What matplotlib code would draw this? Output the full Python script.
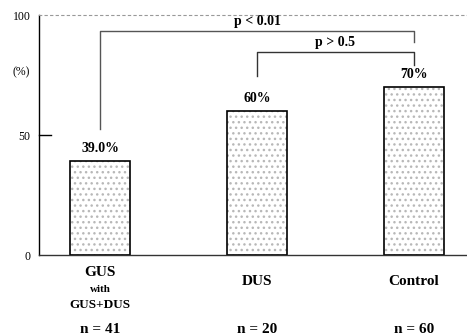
import matplotlib.pyplot as plt

groups = ['GUS', 'DUS', 'Control']
rates = [39.0, 60, 70]
value_labels = ['39.0%', '60%', '70%']
n_labels = ['n = 41', 'n = 20', 'n = 60']
sig_labels = ['p < 0.01', 'p > 0.5']

plt.rcParams['font.family'] = ['Liberation Serif', 'DejaVu Serif']

fig = plt.figure(figsize=(4.67, 3.36), dpi=100)
ax = fig.add_axes([0.0835, 0.241, 0.9165, 0.714])

x = list(range(len(groups)))
w = 0.382
ax.bar(x, rates, width=w, color='white', edgecolor='#b8b8b8', hatch='...', linewidth=0)
ax.bar(x, rates, width=w, fill=False, edgecolor='black', linewidth=1.2)

ax.set_xlim(-0.389, 2.338)
ax.set_ylim(0, 100)

for xi, r, lab in zip(x, rates, value_labels):
    ax.text(xi, r + 2.5, lab, ha='center', va='bottom', fontsize=10, fontweight='bold')

# significance brackets
ax.plot([0, 0, 2, 2], [52.5, 93.3, 93.3, 88.7], color='#555555', lw=1.0)
ax.text(1.0, 94.5, sig_labels[0], ha='center', va='bottom', fontsize=10, fontweight='bold')
ax.plot([1, 1, 2, 2], [74.6, 84.6, 84.6, 79], color='#333333', lw=1.0)
ax.text(1.5, 85.8, sig_labels[1], ha='center', va='bottom', fontsize=10, fontweight='bold')

ax.spines['right'].set_visible(False)
ax.spines['top'].set_linestyle((0, (2, 3)))
ax.spines['top'].set_color('#999999')
ax.spines['top'].set_linewidth(0.8)
ax.spines['left'].set_linewidth(1.0)
ax.spines['bottom'].set_linewidth(1.0)
ax.spines['bottom'].set_color('#333333')

ax.set_yticks([0, 50, 100])
ax.set_yticklabels(['0', '50', '100'], fontsize=8.5)
ax.tick_params(axis='y', direction='in', length=0, pad=6)
ax.plot([-0.389, -0.31], [50, 50], color='black', lw=1.0, clip_on=False)
ax.set_xticks([])
ax.text(-0.504, 76, '(%)', ha='center', va='center', fontsize=8.5, clip_on=False)

# category labels
ax.text(0, -4.5, 'GUS', ha='center', va='top', fontsize=11, fontweight='bold', clip_on=False)
ax.text(0, -12.5, 'with', ha='center', va='top', fontsize=8, fontweight='bold', clip_on=False)
ax.text(0, -18.5, 'GUS+DUS', ha='center', va='top', fontsize=9.5, fontweight='bold', clip_on=False)
ax.text(1, -8.5, groups[1], ha='center', va='top', fontsize=11, fontweight='bold', clip_on=False)
ax.text(2, -8.5, groups[2], ha='center', va='top', fontsize=11, fontweight='bold', clip_on=False)
for xi, n in zip(x, n_labels):
    ax.text(xi, -28.5, n, ha='center', va='top', fontsize=11, fontweight='bold', clip_on=False)

fig.savefig('out.png', dpi=100)
